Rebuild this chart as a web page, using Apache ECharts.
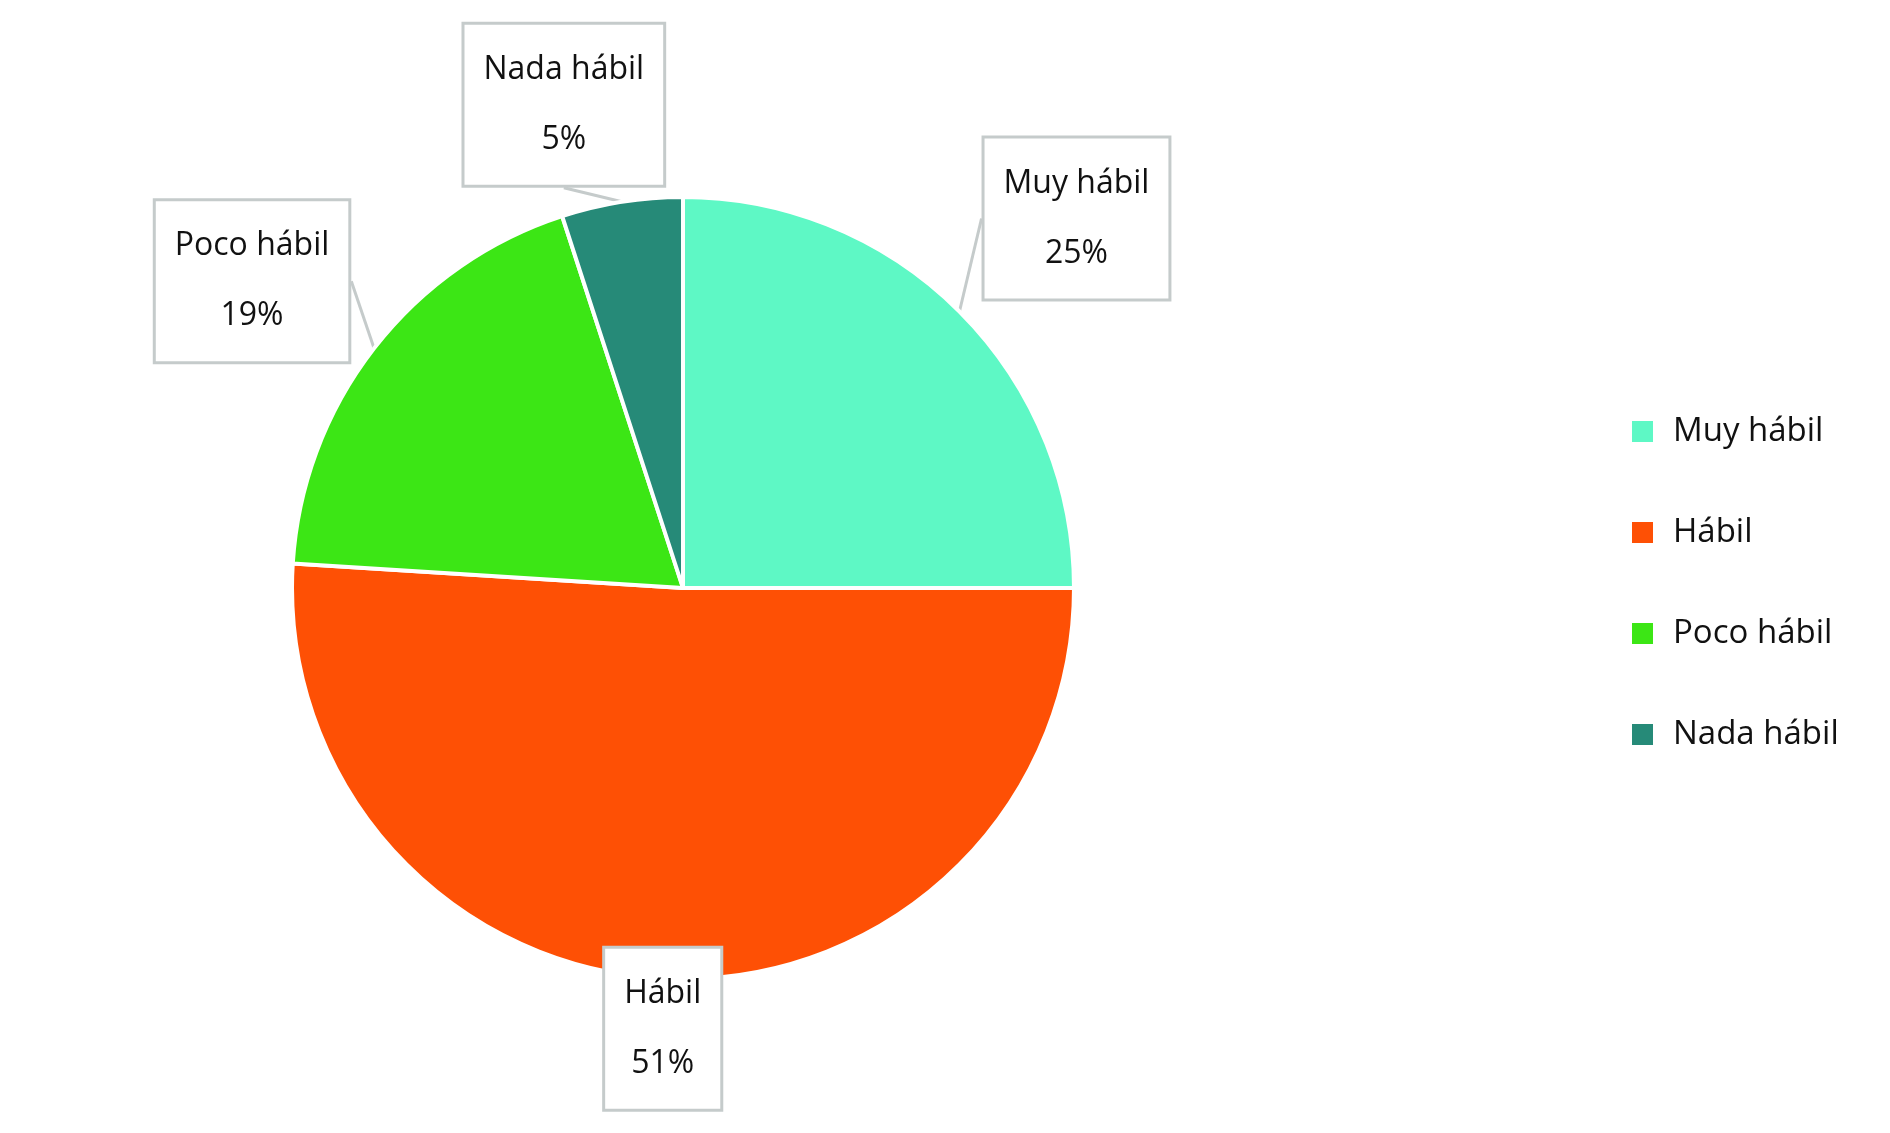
<!DOCTYPE html>
<html>
<head>
<meta charset="utf-8">
<script src="https://cdn.jsdelivr.net/npm/echarts@6/dist/echarts.min.js"></script>
<style>
  html, body { margin: 0; padding: 0; background: #fff; }
  #chart { width: 1890px; height: 1133px; }
</style>
</head>
<body>
<div id="chart"></div>
<script>
var categories = ['Muy hábil', 'Hábil', 'Poco hábil', 'Nada hábil'];
var values = [25, 51, 19, 5];
var colors = ['#5ef8c5', '#fe5005', '#3ce615', '#268a78'];

// label box offset from the slice edge (px), per slice
var labelOffsets = [[117, -93], [-8, 50], [-122, -67], [-58, -97]];

var cx = 683, cy = 588, r = 391;

function midAngle(i) {
  var total = 0, before = 0;
  for (var k = 0; k < values.length; k++) {
    total += values[k];
    if (k < i) before += values[k];
  }
  return (before + values[i] / 2) / total * Math.PI * 2;
}

var chart = echarts.init(document.getElementById('chart'));
chart.setOption({
  animation: false,
  color: colors,
  legend: {
    orient: 'vertical',
    left: 1625,
    top: 410,
    itemWidth: 23,
    itemHeight: 23,
    itemGap: 68,
    icon: 'rect',
    data: categories,
    textStyle: {
      fontFamily: 'Open Sans',
      fontSize: 33,
      color: '#111',
      padding: [0, 0, 0, 14]
    }
  },
  series: [{
    type: 'pie',
    center: [cx, cy],
    radius: r,
    startAngle: 90,
    clockwise: true,
    itemStyle: {
      borderColor: '#fff',
      borderWidth: 4
    },
    label: {
      show: true,
      position: 'outside',
      formatter: '{b}\n{d}%',
      fontFamily: 'Open Sans',
      fontSize: 32,
      lineHeight: 70,
      color: '#111',
      backgroundColor: '#fff',
      borderColor: '#c5cbcb',
      borderWidth: 3,
      padding: [10, 19],
      align: 'center'
    },
    labelLine: {
      show: true,
      length: 0,
      length2: 0,
      lineStyle: { color: '#c5cbcb', width: 3 }
    },
    labelLayout: function (params) {
      var i = params.dataIndex;
      var a = midAngle(i);
      var ex = cx + r * Math.sin(a);
      var ey = cy - r * Math.cos(a);
      return {
        x: ex + labelOffsets[i][0],
        y: ey + labelOffsets[i][1],
        align: 'center',
        verticalAlign: 'middle'
      };
    },
    data: categories.map(function (c, i) {
      return { name: c, value: values[i] };
    })
  }]
});
</script>
</body>
</html>
